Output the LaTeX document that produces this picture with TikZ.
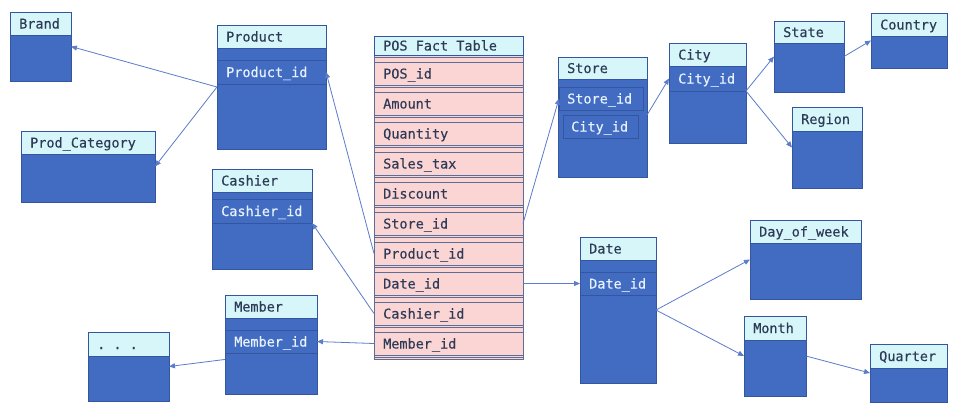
\documentclass[tikz,border=0pt]{standalone}
\usepackage{fontspec}
\newfontfamily\plexlike[FakeBold=0.3]{DejaVu Sans Mono}
\usetikzlibrary{arrows.meta,calc}
\definecolor{tblue}{HTML}{426CC1}
\definecolor{tline}{HTML}{3455A0}
\definecolor{tcyan}{HTML}{D6F6FA}
\definecolor{tpink}{HTML}{FBD4D4}
\definecolor{pline}{HTML}{5C6E96}
\definecolor{dtext}{HTML}{2E3B57}
\definecolor{ltext}{HTML}{E8F2FF}
\definecolor{connc}{HTML}{5B7CCB}
\tikzset{
 box/.style={inner sep=0pt, outer sep=0pt, anchor=north west, line width=0.9pt},
 tbody/.style={box, fill=tblue, draw=tline},
 thead/.style={box, fill=tcyan, draw=tline},
 trow/.style={box, draw=tline},
 prow/.style={box, fill=tpink, draw=pline},
 dlabel/.style={anchor=base west, inner sep=0pt, text=dtext, font=\plexlike\frenchspacing\fontsize{13.5}{16}\selectfont},
 llabel/.style={dlabel, text=ltext},
 link/.style={draw=connc, line width=0.8pt, -{Triangle[length=6pt,width=5pt]}},
}
\newcommand\dtable[7]{%
 \node[tbody, minimum width={#4-#2}, minimum height={#5-#3}] (#1) at (#2,#3) {};
 \node[thead, minimum width={#4-#2}, minimum height={#6-#3}] (#1-h) at (#2,#3) {};
 \node[dlabel] (#1-t) at ({#2+9},{(#3+#6)/2+5}) {#7};
}
\newcommand\drow[7]{%
 \node[trow, minimum width={#4-#2}, minimum height={#5-#3}] (#1) at (#2,#3) {};
 \node[llabel] (#1-t) at ({#2+#7},{(#3+#5)/2+5}) {#6};
}
\begin{document}
\begin{tikzpicture}[x=1pt,y=-1pt]
\fill[white] (0,0) rectangle (955,408);
\useasboundingbox (0,0) rectangle (955,408);

% dimension tables
\dtable{brand}{10}{12}{71}{81}{35}{Brand}
\dtable{product}{217}{25}{326}{149}{48}{Product}
\drow{productid}{217}{60}{326}{84}{Product\_id}{9}
\dtable{prodcat}{21}{131}{155}{202}{154}{Prod\_Category}
\dtable{cashier}{212}{169}{312}{269}{192}{Cashier}
\drow{cashierid}{212}{199}{312}{223}{Cashier\_id}{9}
\dtable{member}{225}{295}{317}{394}{318}{Member}
\drow{memberid}{225}{330}{317}{353}{Member\_id}{9}
\dtable{dots}{88}{332}{169}{401}{356}{. . .}
\dtable{store}{558}{57}{647}{177}{79}{Store}
\drow{storeid}{559}{87}{643}{110}{Store\_id}{8}
\drow{storecity}{563}{115}{638}{138}{City\_id}{8}
\dtable{city}{669}{43}{746}{143}{66}{City}
\drow{cityid}{669}{66}{746}{91}{City\_id}{9}
\dtable{state}{774}{21}{844}{92}{43}{State}
\dtable{country}{871}{13}{947}{68}{36}{Country}
\dtable{region}{792}{107}{862}{188}{131}{Region}
\dtable{date}{580}{237}{656}{383}{260}{Date}
\drow{dateid}{580}{272}{656}{295}{Date\_id}{9}
\dtable{dayofweek}{750}{220}{861}{299}{243}{Day\_of\_week}
\dtable{month}{744}{316}{806}{396}{340}{Month}
\dtable{quarter}{870}{344}{947}{402}{368}{Quarter}

% fact table
\node[prow, minimum width=149, minimum height=323] (pos) at (374,36) {};
\node[thead, minimum width=149, minimum height=19.5] (pos-h) at (374,36) {};
\node[dlabel] (pos-t) at (383,50.5) {POS Fact Table};
\foreach \lbl [count=\i from 0] in {POS\_id,Amount,Quantity,Sales\_tax,Discount,Store\_id,Product\_id,Date\_id,Cashier\_id,Member\_id}{
  \draw[pline, line width=0.9pt] (374,{57+30*\i}) -- (523,{57+30*\i});
  \node[prow, minimum width=149, minimum height=23] (pf\i) at (374,{62+30*\i}) {};
  \node[dlabel] (pf\i-t) at (383,{78.5+30*\i}) {\lbl};
}
\draw[pline, line width=0.9pt] (374,357) -- (523,357);

% connectors
\draw[link] (product.west) -- (brand.east);
\draw[link] (product.west) -- (prodcat.east);
\draw[link] (pf6.west) -- (productid.east);
\draw[link] (pf8.west) -- (cashierid.south east);
\draw[link] (pf9.west) -- (memberid.east);
\draw[link] (member.198) -- (dots.east);
\draw[link] (pf5.east) -- (storeid.west);
\draw[link] (store.east |- storecity.north) -- (cityid.west);
\draw[link] (city.east |- cityid.south) -- (state.west);
\draw[link] (city.east |- cityid.south) -- (region.west);
\draw[link] (state.east) -- (country.west);
\draw[link] (pf7.east) -- (dateid.west);
\draw[link] (date.east) -- (dayofweek.west);
\draw[link] (date.east) -- (month.west);
\draw[link] (month.east) -- (quarter.west);
\end{tikzpicture}
\end{document}
